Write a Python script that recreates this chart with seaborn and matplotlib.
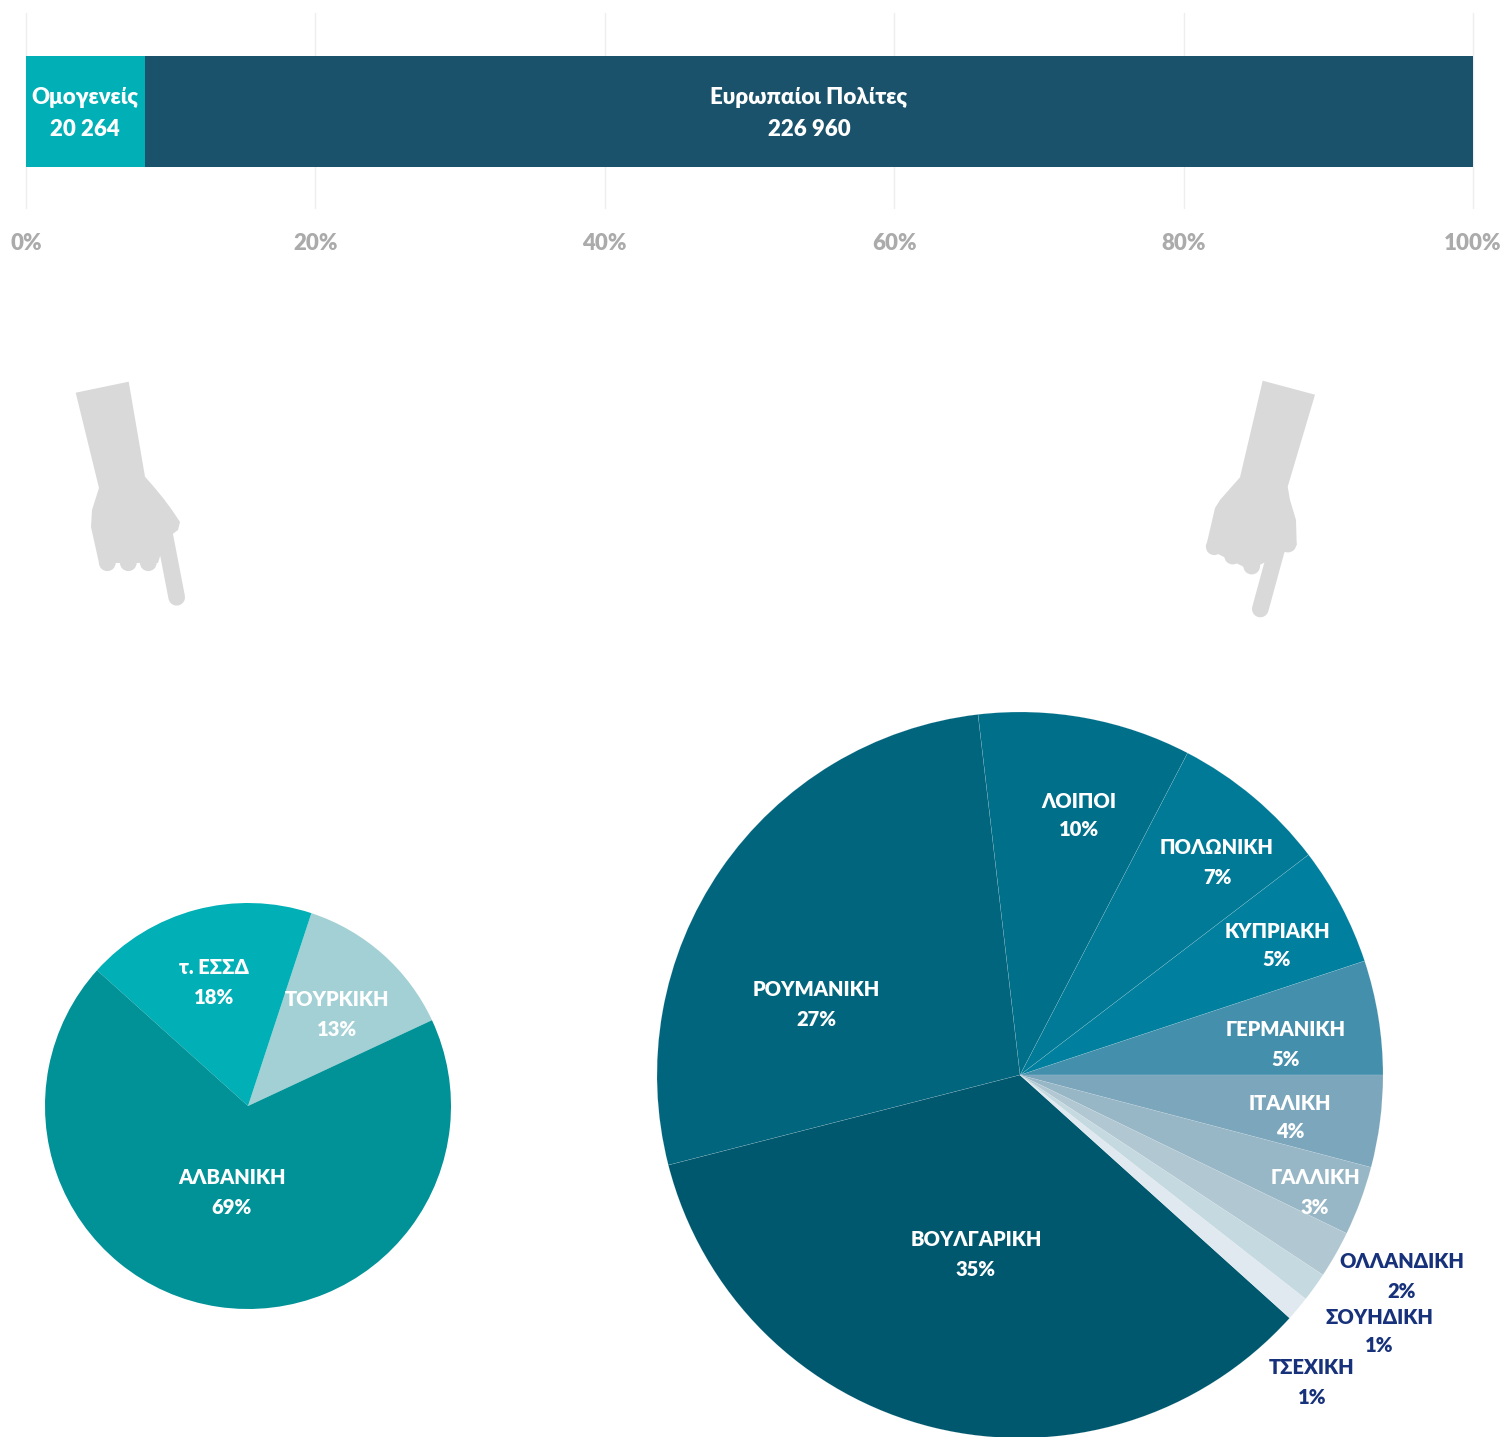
import matplotlib
matplotlib.use("Agg")
import matplotlib.pyplot as plt
import seaborn as sns
import pandas as pd
from matplotlib.patches import Polygon, Circle

W, H = 1506, 1437
FONT = ['Lato', 'Open Sans', 'Noto Sans', 'DejaVu Sans']

# ---- data ----
bar_names = ['Ομογενείς', 'Ευρωπαίοι Πολίτες']
bar_values = [20264, 226960]
bar_labels = ['20 264', '226 960']
bar_colors = ['#00B0B6', '#1A526B']

left_names = ['ΤΟΥΡΚΙΚΗ', 'τ. ΕΣΣΔ', 'ΑΛΒΑΝΙΚΗ']
left_values = [13.0, 18.4, 68.6]
left_labels = ['13%', '18%', '69%']
left_colors = ['#A2D0D4', '#00B0B6', '#009297']

right_names = ['ΓΕΡΜΑΝΙΚΗ', 'ΚΥΠΡΙΑΚΗ', 'ΠΟΛΩΝΙΚΗ', 'ΛΟΙΠΟΙ', 'ΡΟΥΜΑΝΙΚΗ', 'ΒΟΥΛΓΑΡΙΚΗ',
               'ΤΣΕΧΙΚΗ', 'ΣΟΥΗΔΙΚΗ', 'ΟΛΛΑΝΔΙΚΗ', 'ΓΑΛΛΙΚΗ', 'ΙΤΑΛΙΚΗ']
right_values = [5.1, 5.3, 7.0, 9.5, 27.2, 34.4, 1.1, 1.3, 2.1, 3.1, 4.1]
right_labels = ['5%', '5%', '7%', '10%', '27%', '35%', '1%', '1%', '2%', '3%', '4%']
right_colors = ['#448FAB', '#007F9F', '#007A96', '#006F8A', '#02657E', '#00586F',
                '#DFE9EF', '#C5D9E0', '#B1C8D3', '#98B7C6', '#7BA6BB']
pct_ticks = [0, 20, 40, 60, 80, 100]

# ---- label placement (pixel centres) ----
left_pos = [(337, 999, 1029), (214, 968, 997), (232, 1177, 1207)]
right_pos = [(1286, 1029, 1059), (1277, 931, 960), (1217, 848, 877), (1079, 801, 830),
             (816, 989, 1019), (976, 1240, 1270), (1312, 1368, 1398), (1379, 1317, 1346),
             (1402, 1261, 1291), (1315, 1177, 1207), (1290, 1103, 1132)]
right_text = ['w', 'w', 'w', 'w', 'w', 'w', 'n', 'n', 'n', 'w', 'w']
bar_pos = [(85, 98, 130), (809, 98, 130)]

sns.set_theme(style='white')
plt.rcParams['font.family'] = FONT
plt.rcParams['font.weight'] = 'bold'
WEIGHT = 'heavy'

fig = plt.figure(figsize=(W / 100, H / 100), dpi=100, facecolor='white')


def axes_px(l, t, r, b):
    return fig.add_axes([l / W, 1 - b / H, (r - l) / W, (b - t) / H])


# ---- stacked bar ----
ax = axes_px(26, 13, 1473, 208)
total = sum(bar_values)
shares = [v / total * 100 for v in bar_values]
df = pd.DataFrame({'row': ['a'], 'first': [shares[0]], 'all': [100.0]})
sns.barplot(data=df, y='row', x='all', color=bar_colors[1], saturation=1, width=0.569,
            linewidth=0, ax=ax, zorder=3)
sns.barplot(data=df, y='row', x='first', color=bar_colors[0], saturation=1, width=0.569,
            linewidth=0, ax=ax, zorder=3)
ax.set_xlim(0, 100)
ax.set_ylim(0.495, -0.505)
ax.set_xticks(pct_ticks)
ax.set_xticklabels([f'{t}%' for t in pct_ticks], fontsize=16, color='#ABABAB', fontweight=WEIGHT)
ax.tick_params(axis='x', length=0, pad=21)
for t in ax.get_xticklabels():
    t.set_y(0.022)
ax.set_yticks([])
ax.set_xlabel('')
ax.set_ylabel('')
ax.grid(axis='x', color='#EEEEEE', lw=1)
ax.set_axisbelow(True)
for s in ax.spines.values():
    s.set_visible(False)
for g in ax.get_xgridlines():
    g.set_clip_on(False)

# ---- pies ----
for (cx, cy, r, vals, cols, start, lw) in [(248, 1106, 203, left_values, left_colors, 25, 0),
                                           (1020, 1075, 363, right_values, right_colors, 0, 0.2)]:
    a = axes_px(cx - r, cy - r, cx + r, cy + r)
    wedges, _ = a.pie(vals, colors=cols, startangle=start, counterclock=True, radius=1,
                      wedgeprops=dict(linewidth=lw, edgecolor='#FFFFFF66'))
    a.set_xlim(-1, 1)
    a.set_ylim(-1, 1)
    a.set_aspect('equal')
    a.axis('off')
    for w in wedges:
        w.set_clip_on(False)

# ---- overlay in pixels ----
ov = fig.add_axes([0, 0, 1, 1], zorder=10)
ov.set_xlim(0, W)
ov.set_ylim(H, 0)
ov.axis('off')
ov.patch.set_alpha(0)


def two(x, y1, y2, a, b, color, size):
    ov.text(x, y1, a, ha='center', va='center', color=color, fontsize=size, fontweight=WEIGHT)
    ov.text(x, y2, b, ha='center', va='center', color=color, fontsize=size, fontweight=WEIGHT)


for (x, y1, y2), n, l in zip(bar_pos, bar_names, bar_labels):
    two(x, y1, y2, n, l, 'white', 16)
for (x, y1, y2), n, l in zip(left_pos, left_names, left_labels):
    two(x, y1, y2, n, l, 'white', 14.5)
for (x, y1, y2), n, l, k in zip(right_pos, right_names, right_labels, right_text):
    two(x, y1, y2, n, l, 'white' if k == 'w' else '#17327A', 14.5)

# ---- hands (decoration) ----
HAND = '#D9D9D9'
left_hand = [(75.7, 392.7), (128.7, 381.7), (145, 476.7), (154, 487), (163.3, 498.3), (172, 510), (180, 522),
             (178, 530), (172.7, 534), (165, 540), (158, 563), (107, 563), (99, 563), (91, 527), (92, 510), (99, 488)]
right_hand = [(1262.7, 380.7), (1315, 394.7), (1287.7, 486.7), (1290, 500), (1296, 520), (1296.7, 545),
              (1285, 552), (1250, 570), (1214, 552), (1206, 546.7), (1215, 508), (1220, 500), (1240, 477.3)]
for pts in (left_hand, right_hand):
    ov.add_patch(Polygon(pts, closed=True, fc=HAND, ec='none'))
for (x, y) in [(107.3, 562.7), (128.3, 562.7), (148.3, 562.7),
               (1214.3, 546.7), (1232.7, 556), (1251.7, 566), (1288, 544)]:
    ov.add_patch(Circle((x, y), 8.4, fc=HAND, ec='none'))
ov.plot([165, 176.7], [536.7, 597.3], color=HAND, lw=12, solid_capstyle='round')
ov.plot([1277.3, 1260.3], [546.7, 609], color=HAND, lw=12, solid_capstyle='round')

fig.savefig('out.png', dpi=100, facecolor='white')
